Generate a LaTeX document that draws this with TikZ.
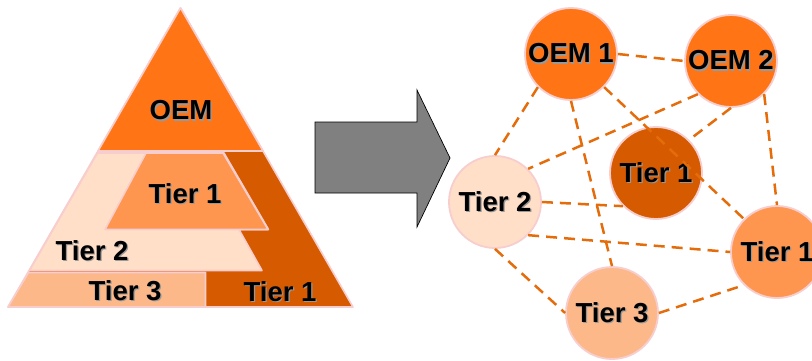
\documentclass[tikz,border=0pt]{standalone}
\usepackage{fontspec}
\setmainfont{Liberation Sans}
\definecolor{oemorange}{RGB}{255,117,22}
\definecolor{tierone}{RGB}{254,150,80}
\definecolor{tieronedark}{RGB}{214,90,0}
\definecolor{tiertwo}{RGB}{255,223,200}
\definecolor{tierthree}{RGB}{252,184,137}
\definecolor{edgepink}{RGB}{248,205,205}
\definecolor{linkorange}{RGB}{228,108,10}
\definecolor{arrowgray}{RGB}{128,128,128}
% bold caption with a soft grey drop shadow
\newcommand\shadowtext[1]{\makebox[0pt][l]{\raisebox{-1.2pt}{\hspace*{1.2pt}\textcolor{black!40}{#1}}}#1}
\begin{document}
\begin{tikzpicture}[x=1pt,y=-1pt,
  pinkline/.style={draw=edgepink, line width=1.6pt, line join=round},
  txt/.style={font=\fontsize{27.5}{30}\selectfont\bfseries, inner sep=0pt},
  hub/.style={circle, minimum size=92pt, inner sep=0pt, draw=edgepink, line width=1.8pt,
              font=\fontsize{27.5}{30}\selectfont\bfseries},
  netlink/.style={draw=linkorange, line width=2.5pt, dash pattern=on 11pt off 7pt}
]
\clip (0,0) rectangle (812,360);
\fill[white] (0,0) rectangle (812,360);

% ---- layered pyramid ----
\path[pinkline, fill=tieronedark] (180.5,8) -- (353,307) -- (8,307) -- cycle;
\path[pinkline, fill=oemorange] (180.5,8) -- (263,151) -- (98,151) -- cycle;
\path[pinkline, fill=tiertwo] (97.5,153) -- (224,153) -- (268.5,229.5) -- (239,229.5)
      -- (262,270.5) -- (29.5,270.5) -- cycle;
\path[pinkline, fill=tierone] (146,153) -- (223,153) -- (268,229.5) -- (105,229.5) -- cycle;
\path[pinkline, fill=tierthree] (28.5,272.5) -- (205.5,272.5) -- (205.5,307) -- (8,307) -- cycle;

\node[txt] (poem)   at (181,111) {\shadowtext{OEM}};
\node[txt] (ptone)  at (185,194) {\shadowtext{Tier 1}};
\node[txt] (pttwo)  at (92,251)  {\shadowtext{Tier 2}};
\node[txt] (ptthr)  at (125,291) {\shadowtext{Tier 3}};
\node[txt] (ptdark) at (280,292) {\shadowtext{Tier 1}};

% ---- block arrow ----
\draw[fill=arrowgray, draw=black, line width=0.7pt, line join=miter]
  (315,122) -- (417,122) -- (417,90) -- (450,158) -- (417,227) -- (417,193) -- (315,193) -- cycle;

% ---- network of partners ----
\node[hub, fill=oemorange]   (oem1)  at (571,54)  {\shadowtext{OEM 1}};
\node[hub, fill=oemorange]   (oem2)  at (731,61)  {\shadowtext{OEM 2}};
\node[hub, fill=tieronedark] (tdark) at (656,173) {\shadowtext{Tier 1}};
\node[hub, fill=tiertwo]     (ttwo)  at (495,202) {\shadowtext{Tier 2}};
\node[hub, fill=tierone]     (tone)  at (777,252) {\shadowtext{Tier 1}};
\node[hub, fill=tierthree]   (tthr)  at (612,313) {\shadowtext{Tier 3}};

\draw[netlink] (oem1.east) -- (oem2.west);
\draw[netlink] (oem1.south west) -- (ttwo.north);
\draw[netlink] (oem1.south) -- (tthr.north);
\draw[netlink] (oem1.south east) -- (tone.north west);
\draw[netlink] (oem2.south west) -- (ttwo.north east);
\draw[netlink] (oem2.south) -- (tdark.north east);
\draw[netlink] (oem2.south east) -- (tone.north);
\draw[netlink] (ttwo.east) -- (tdark.south west);
\draw[netlink] (ttwo.south east) -- (tone.west);
\draw[netlink] (ttwo.south) -- (tthr.west);
\draw[netlink] (tthr.east) -- (tone.south west);
\end{tikzpicture}
\end{document}
